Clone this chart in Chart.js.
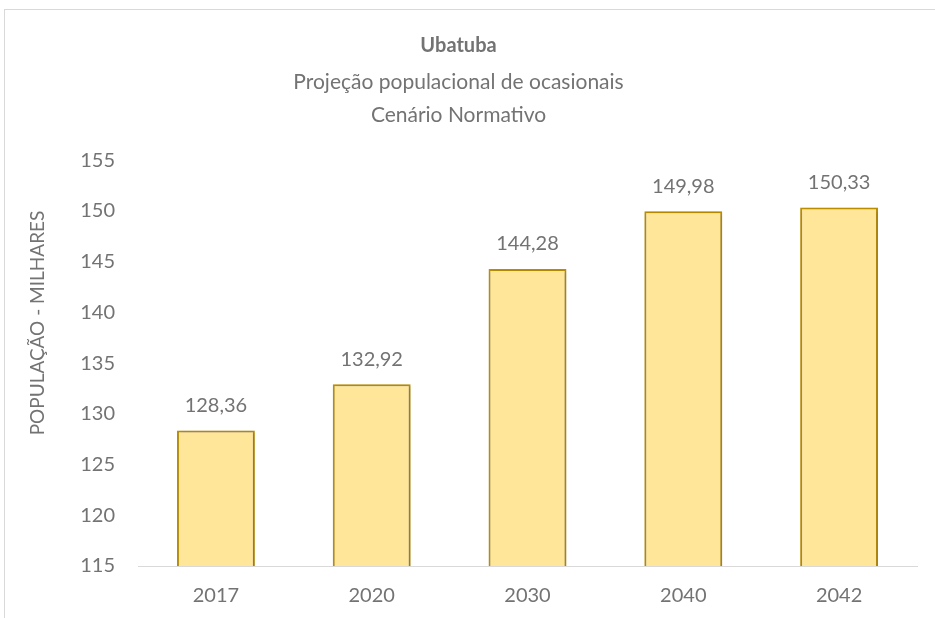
<!DOCTYPE html>
<html>
<head>
<meta charset="utf-8">
<script src="https://cdn.jsdelivr.net/npm/chart.js@4"></script>
<style>
    html, body { margin: 0; padding: 0; background: #fff; }
    #wrap { width: 935px; height: 618px; }
</style>
</head>
<body>
<div id="wrap"><canvas id="popChart" width="935" height="618"></canvas></div>
<script>
// Ubatuba - projeção de população ocasional (milhares)
const anos = ['2017', '2020', '2030', '2040', '2042'];
const populacao = [128.36, 132.92, 144.28, 149.98, 150.33];
const eixoY = { min: 115, max: 155, passo: 5 };

const corTexto = '#737373';
const fonte = 'Lato, "Open Sans", sans-serif';

// moldura cinza em volta do gráfico
const moldura = {
    id: 'moldura',
    beforeDraw(chart) {
        const ctx = chart.ctx;
        ctx.save();
        ctx.strokeStyle = '#d9d9d9';
        ctx.lineWidth = 1;
        ctx.strokeRect(4.5, 9.5, 1200, 1200);
        ctx.restore();
    }
};

// sombra leve nas barras + rótulos de valor acima delas
const rotulos = {
    id: 'rotulos',
    beforeDatasetsDraw(chart) {
        const ctx = chart.ctx;
        ctx.save();
        ctx.shadowColor = 'rgba(0,0,0,0.22)';
        ctx.shadowBlur = 4;
        ctx.shadowOffsetX = 1;
        ctx.shadowOffsetY = 1;
    },
    afterDatasetsDraw(chart) {
        const ctx = chart.ctx;
        ctx.restore();
        ctx.save();
        ctx.fillStyle = corTexto;
        ctx.font = '20px ' + fonte;
        ctx.textAlign = 'center';
        ctx.textBaseline = 'middle';
        chart.getDatasetMeta(0).data.forEach((bar, i) => {
            const txt = populacao[i].toFixed(2).replace('.', ',');
            ctx.fillText(txt, bar.x, bar.y - 25);
        });
        ctx.restore();
    }
};

// título do eixo Y (vertical)
const tituloY = {
    id: 'tituloY',
    afterDraw(chart) {
        const ctx = chart.ctx;
        ctx.save();
        ctx.translate(38, 323);
        ctx.rotate(-Math.PI / 2);
        ctx.fillStyle = corTexto;
        ctx.font = '19px ' + fonte;
        ctx.textAlign = 'center';
        ctx.textBaseline = 'middle';
        ctx.fillText('POPULAÇÃO - MILHARES', 0, 0);
        ctx.restore();
    }
};

new Chart(document.getElementById('popChart'), {
    type: 'bar',
    data: {
        labels: anos,
        datasets: [{
            label: 'População',
            data: populacao,
            backgroundColor: '#FFE699',
            borderColor: '#BF9000',
            borderWidth: 2,
            barPercentage: 0.5,
            categoryPercentage: 1
        }]
    },
    options: {
        responsive: false,
        animation: false,
        layout: {
            padding: { left: 0, right: 18, top: 0, bottom: 0 }
        },
        plugins: {
            legend: { display: false },
            tooltip: { enabled: false },
            title: {
                display: true,
                text: 'Ubatuba',
                color: corTexto,
                font: { family: fonte, size: 20, weight: 'bold', lineHeight: 1.2 },
                padding: { top: 34, bottom: 7 }
            },
            subtitle: {
                display: true,
                text: ['Projeção populacional de ocasionais', 'Cenário Normativo'],
                color: corTexto,
                font: { family: fonte, size: 21, lineHeight: 1.6 },
                padding: { top: 0, bottom: 28 }
            }
        },
        scales: {
            x: {
                grid: { display: false, drawTicks: false },
                border: { display: true, color: '#d9d9d9', width: 1 },
                ticks: {
                    color: corTexto,
                    font: { family: fonte, size: 20 },
                    padding: 18
                },
                afterFit(scale) {
                    scale.height = 52;
                }
            },
            y: {
                min: eixoY.min,
                max: eixoY.max,
                grid: { display: false, drawTicks: false },
                border: { display: false },
                ticks: {
                    stepSize: eixoY.passo,
                    color: corTexto,
                    font: { family: fonte, size: 20 },
                    padding: 23
                },
                afterFit(scale) {
                    scale.width = 138;
                }
            }
        }
    },
    plugins: [moldura, rotulos, tituloY]
});
</script>
</body>
</html>
